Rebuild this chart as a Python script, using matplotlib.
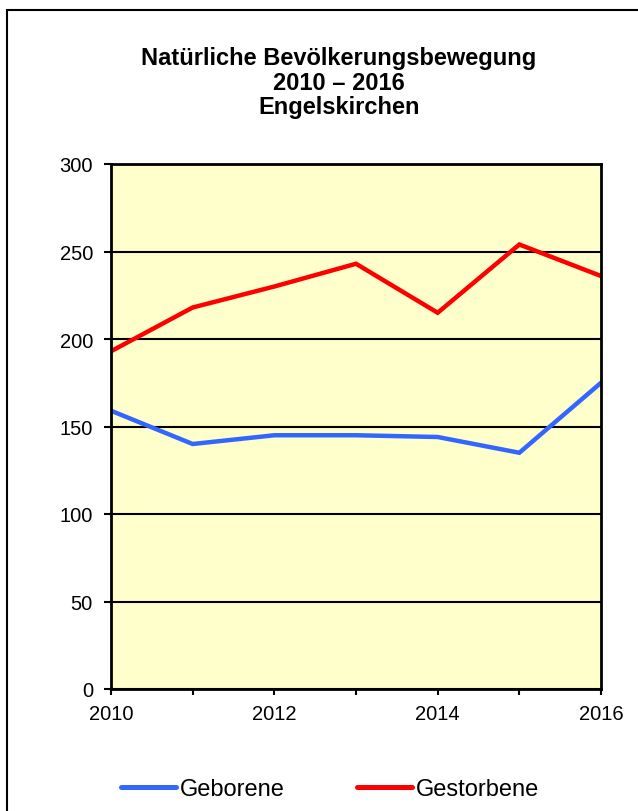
import matplotlib
matplotlib.use("Agg")
import matplotlib.pyplot as plt
from matplotlib.patches import Rectangle
from matplotlib.lines import Line2D

years = [2010, 2011, 2012, 2013, 2014, 2015, 2016]
geborene = [159, 140, 145, 145, 144, 135, 175]
gestorbene = [193, 218, 230, 243, 215, 254, 236]
y_ticks = [0, 50, 100, 150, 200, 250, 300]
x_ticks = [2010, 2012, 2014, 2016]

plt.rcParams.update({
    "font.family": ["Liberation Sans", "DejaVu Sans"],
    "font.size": 14.5,
})

fig = plt.figure(figsize=(6.38, 8.12), dpi=100)
fig.patch.set_facecolor("white")

# äußerer Rahmen (läuft rechts und unten aus dem Bild)
fig.patches.append(Rectangle((7 / 638, -0.05), 1.1, 1 - 11 / 812 + 0.05,
                             transform=fig.transFigure, fill=False,
                             edgecolor="black", linewidth=1.5))

ax = fig.add_axes([111 / 638, 1 - 690 / 812, (601 - 111) / 638, (690 - 165) / 812])
ax.set_facecolor("#FFFFCC")

ax.plot(years, geborene, color="#3366FF", linewidth=3.2, solid_joinstyle="miter")
ax.plot(years, gestorbene, color="#FF0000", linewidth=3.2, solid_joinstyle="miter")

ax.set_xlim(2010, 2016)
ax.set_ylim(0, 300)
ax.set_yticks(y_ticks)
ax.set_xticks(years)
ax.set_xticklabels([str(y) if y in x_ticks else "" for y in years])
ax.yaxis.grid(True, color="black", linewidth=1.5)
ax.set_axisbelow(True)
for s in ax.spines.values():
    s.set_linewidth(2)
ax.tick_params(axis="y", direction="out", length=5, width=1.5, pad=8)
ax.tick_params(axis="x", direction="out", length=4, width=1.5, pad=7)

title_lines = ["Natürliche Bevölkerungsbewegung", "2010 – 2016", "Engelskirchen"]
for i, line in enumerate(title_lines):
    fig.text(339 / 638, 1 - (58 + 25 * i) / 812, line,
             ha="center", va="center", fontsize=17, fontweight="bold")

handles = [Line2D([], [], color="#3366FF", linewidth=3.6, solid_capstyle="round"),
           Line2D([], [], color="#FF0000", linewidth=3.6, solid_capstyle="round")]
fig.legend(handles, ["Geborene", "Gestorbene"], loc="center left",
           bbox_to_anchor=(121 / 638, 1 - 790 / 812), ncol=2, frameon=False,
           fontsize=17, handlelength=2.33, handletextpad=0.17, columnspacing=3.05,
           borderpad=0, borderaxespad=0)

fig.savefig("out.png", dpi=100)
